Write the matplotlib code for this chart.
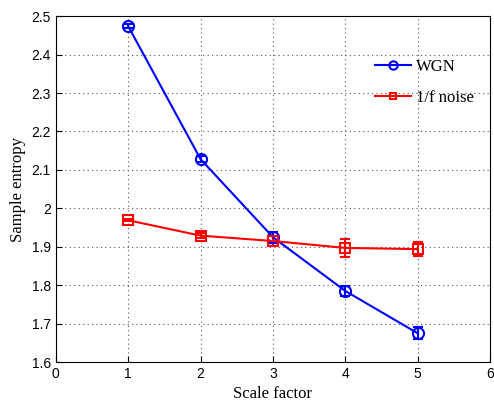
import matplotlib
matplotlib.use("Agg")
import matplotlib.pyplot as plt
from matplotlib.lines import Line2D

scale = [1, 2, 3, 4, 5]
wgn = [2.474, 2.128, 1.925, 1.785, 1.675]
wgn_err = [0.005, 0.008, 0.014, 0.012, 0.015]
pink = [1.969, 1.929, 1.915, 1.897, 1.894]
pink_err = [0.003, 0.006, 0.014, 0.024, 0.019]

serif = ["Liberation Serif", "DejaVu Serif"]

fig = plt.figure(figsize=(4.94, 4.05), dpi=100)
ax = fig.add_axes([0.113, 0.106, 0.879, 0.854])

ax.errorbar(scale, wgn, yerr=wgn_err, color="blue", marker="o", mfc="none",
            ms=8, mew=1.5, lw=1.5, capsize=3.5)
ax.errorbar(scale, pink, yerr=pink_err, color="red", marker="s", mfc="none",
            ms=6.5, mew=1.5, lw=1.5, capsize=3.5)

ax.set_xlim(0, 6)
ax.set_ylim(1.6, 2.5)
ax.set_xticks(range(0, 7))
ax.set_yticks([1.6 + 0.1 * i for i in range(10)])
ax.set_yticklabels(["1.6", "1.7", "1.8", "1.9", "2", "2.1", "2.2", "2.3", "2.4", "2.5"])
ax.tick_params(direction="in", labelsize=10, length=4)
for lab in ax.get_xticklabels() + ax.get_yticklabels():
    lab.set_family(["Liberation Sans", "DejaVu Sans"])
ax.grid(True, linestyle=(0, (1, 3)), color="#555555", lw=0.8)

ax.set_xlabel("Scale factor", family=serif, fontsize=12)
ax.set_ylabel("Sample entropy", family=serif, fontsize=12)

handles = [
    Line2D([], [], color="blue", marker="o", mfc="none", ms=6, mew=1.5, lw=1.5),
    Line2D([], [], color="red", marker="s", mfc="none", ms=5, mew=1.5, lw=1.5),
]
ax.legend(handles, ["WGN", "1/f noise"], loc="upper left",
          bbox_to_anchor=(0.70, 0.92), frameon=False,
          prop={"family": serif, "size": 12}, handlelength=2.2,
          handletextpad=0.3, labelspacing=0.9)

fig.savefig("out.png", dpi=100)
